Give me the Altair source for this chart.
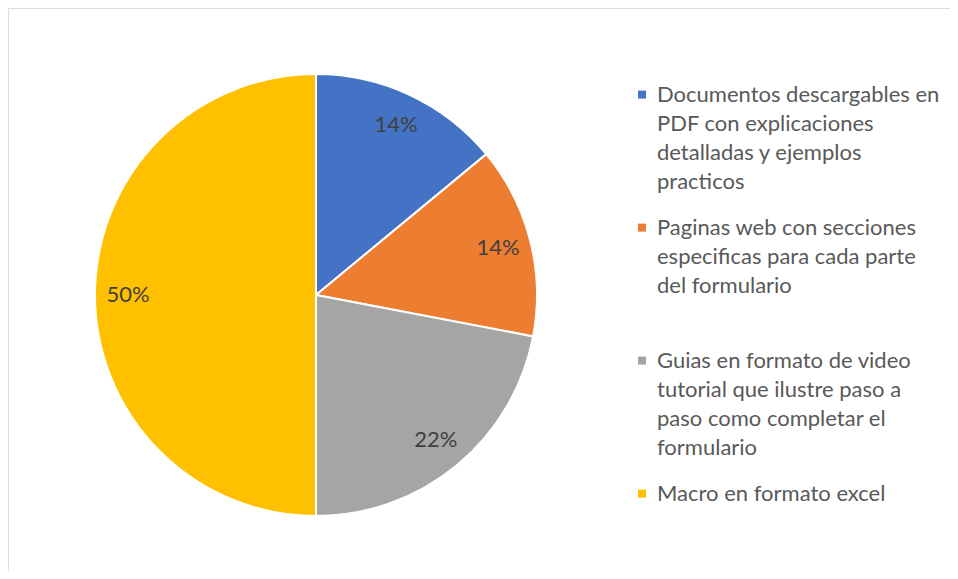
import altair as alt
import pandas as pd

categories = [
    "Documentos descargables en\nPDF con explicaciones\ndetalladas y ejemplos\npracticos",
    "Paginas web con secciones\nespecificas para cada parte\ndel formulario\n ",
    "Guias en formato de video\ntutorial que ilustre paso a\npaso como completar el\nformulario",
    "Macro en formato excel",
]
values = [14, 14, 22, 50]
colors = ["#4472C4", "#ED7D31", "#A5A5A5", "#FFC000"]

df = pd.DataFrame({
    "cat": categories,
    "value": values,
    "order": list(range(len(values))),
    "label": [f"{v}%" for v in values],
})

W, H = 942, 563

base = alt.Chart(df).encode(
    theta=alt.Theta("value:Q", stack=True),
    order=alt.Order("order:Q"),
)

pie = base.mark_arc(outerRadius=221, stroke="white", strokeWidth=2).encode(
    x=alt.value(308),
    y=alt.value(287),
    color=alt.Color(
        "cat:N",
        scale=alt.Scale(domain=categories, range=colors),
        sort=categories,
        legend=alt.Legend(
            title=None,
            orient="none",
            legendX=623,
            legendY=66,
            labelExpr="split(datum.label, '\\n')",
            labelFont="Lato",
            labelFontSize=22,
            labelColor="#595959",
            labelLimit=400,
            labelOffset=4,
            labelBaseline="top",
            symbolType="M-1,1.4L1,1.4L1,3.4L-1,3.4Z",
            symbolSize=64,
            symbolStrokeWidth=0,
            rowPadding=14,
        ),
    ),
)

text = base.mark_text(radius=188, font="Lato", fontSize=22, color="#404040").encode(
    x=alt.value(308),
    y=alt.value(287),
    text="label:N",
)

frame_df = pd.DataFrame({"k": [0]})
top_line = alt.Chart(frame_df).mark_rule(color="#D9D9D9", strokeWidth=2).encode(
    x=alt.value(0), x2=alt.value(W + 20), y=alt.value(-1)
)
left_line = alt.Chart(frame_df).mark_rule(color="#D9D9D9", strokeWidth=2).encode(
    x=alt.value(-1), y=alt.value(-1), y2=alt.value(H + 20)
)

chart = (top_line + left_line + pie + text).properties(
    width=W, height=H, padding=0, autosize="none"
).configure_view(strokeWidth=0).configure(
    style={"guide-label": {"lineHeight": 29}}
)

chart.save("out.html", embed_options={"renderer": "svg", "actions": False})
